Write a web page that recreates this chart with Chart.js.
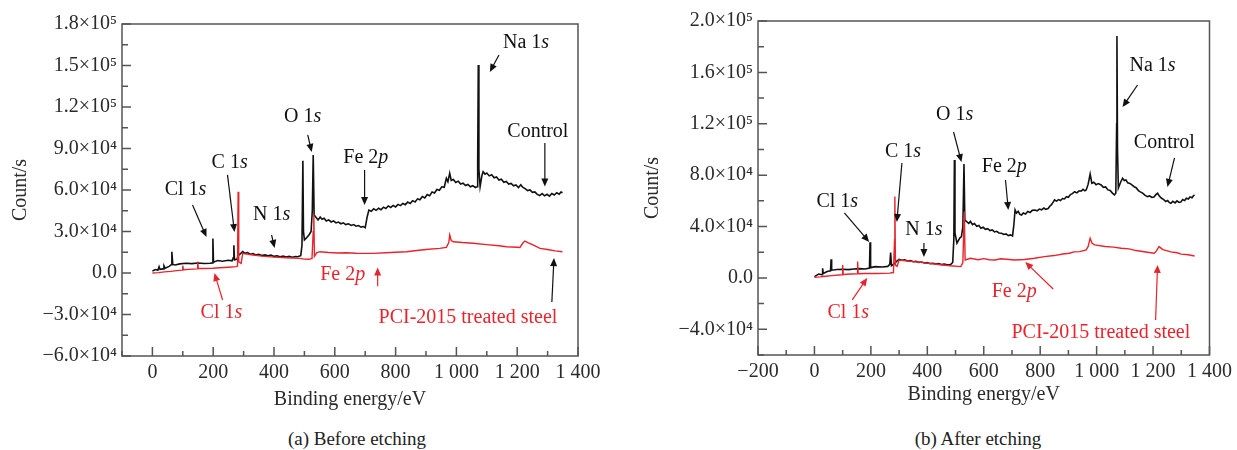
<!DOCTYPE html>
<html>
<head>
<meta charset="utf-8">
<script src="https://cdn.jsdelivr.net/npm/chart.js@4.4.1/dist/chart.umd.min.js"></script>
<style>
  body { margin: 0; background: #fff; width: 1237px; height: 450px; position: relative; overflow: hidden; font-family: "Liberation Serif", serif; }
  canvas { position: absolute; top: 0; }
  #chartA { left: 0; }
  #chartB { left: 618px; }
  .caption { position: absolute; top: 428px; width: 300px; text-align: center; font-size: 19px; color: #222; }
</style>
</head>
<body>
<canvas id="chartA" width="618" height="420"></canvas>
<canvas id="chartB" width="619" height="420"></canvas>
<div class="caption" style="left:207px">(a) Before etching</div>
<div class="caption" style="left:828px">(b) After etching</div>
<script>
// (a) before etching - control
const ctlA_E = [0, 10, 18, 22, 25, 35, 38, 42, 55, 62, 64, 67, 75, 90, 110, 130, 150, 170, 190, 197, 199, 201, 215, 230, 250, 262, 266, 268, 270, 278, 284, 290,
  297, 305, 313, 322, 331, 340, 350, 360, 370, 380, 390, 400, 410, 420, 430, 440, 450, 460, 470, 477, 488, 492, 495, 497, 500, 505, 515, 522, 526, 529, 532,
  545, 552, 558, 565, 572, 580, 588, 596, 604, 612, 620, 628, 636, 645, 654, 662, 670, 678, 686, 694, 700, 706, 712, 720, 728, 736, 744, 752, 760, 768, 776,
  784, 792, 800, 808, 816, 824, 832, 840, 848, 856, 864, 872, 880, 888, 896, 904, 912, 920, 928, 936, 944, 952, 960, 967, 972, 978, 983, 990, 998, 1006,
  1014, 1022, 1030, 1038, 1046, 1054, 1062, 1068, 1070, 1072, 1074, 1078, 1084, 1088, 1094, 1100, 1108, 1116, 1124, 1132, 1140, 1148, 1156, 1164, 1172,
  1180, 1188, 1196, 1204, 1212, 1218, 1226, 1234, 1242, 1250, 1258, 1266, 1274, 1282, 1290, 1298, 1306, 1314, 1322, 1330, 1338, 1344, 1349];
const ctlA_V = [1500, 2500, 2000, 4500, 2600, 3000, 5200, 3500, 4800, 6000, 15400, 6200, 5800, 6600, 7000, 6800, 7200, 6900, 7100, 7300, 25000, 7800, 9000, 8500, 9200, 8800, 11000, 20000, 9500, 10000, 13000, 14000,
  15500, 14200, 14800, 13600, 14100, 13000, 13500, 12600, 13100, 12400, 12900, 12000, 12500, 11800, 12200, 11500, 12000, 11400, 11900, 11800, 12500, 20000, 81200, 30000, 23900, 25000, 27500, 30000, 45000, 85300, 42000,
  38300, 40500, 38800, 39600, 37600, 38400, 36900, 37700, 36200, 36800, 35600, 36300, 35000, 35600, 34400, 35000, 33800, 34300, 33200, 33600, 32800, 40000, 45500, 44600, 46400, 45300, 46800, 45700, 47600, 46600, 48500,
  47400, 48800, 47800, 49600, 48700, 50300, 49400, 51300, 50200, 52300, 51400, 53600, 52900, 55300, 54300, 56700, 55900, 58600, 57800, 60400, 59800, 62300, 62000, 68500, 66000, 72100, 67000, 67600, 65500, 66400,
  64300, 65000, 63200, 64000, 62300, 63100, 61800, 62400, 80000, 150400, 75000, 62400, 70500, 73200, 71500, 72300, 70200, 71000, 68800, 69400, 67200, 67800, 65600, 66200, 64300,
  64800, 63000, 63600, 61800, 63800, 62000, 61000, 59600, 60100, 58300, 58600, 56800, 56000, 57400, 55800, 56900, 55600, 57500, 56400, 58000, 57000, 58600, 58000];

// (a) before etching - PCI-2015 treated steel
const pciA_E = [0, 20, 40, 60, 80, 98, 100, 102, 120, 147, 149, 151, 170, 199, 220, 250, 276, 280, 282, 284, 292, 297, 305, 330, 360, 400, 440, 484, 500, 515, 525, 529, 531, 533, 540, 551, 580, 610, 638, 670, 700, 726, 768, 800, 836, 870, 900, 945, 967, 975, 978, 983, 990, 1020, 1055, 1100, 1140, 1165, 1200, 1209, 1218, 1225, 1235, 1250, 1275, 1300, 1325, 1349];
const pciA_V = [0, 300, 800, 1200, 1700, 2100, 5300, 2300, 2600, 3000, 8200, 3200, 3300, 3400, 3800, 4200, 4600, 5000, 58800, 8000, 7000, 14200, 13800, 13000, 12200, 11500, 11000, 10600, 10000, 9900, 10500, 30000, 42700, 12000, 14500, 15400, 14800, 14500, 14600, 14300, 14200, 14200, 14600, 15000, 15400, 16300, 17000, 17800, 18500, 22000, 27500, 23500, 22600, 22000, 21500, 20500, 19700, 19000, 18600, 18500, 21500, 23100, 22000, 20500, 17800, 17000, 16000, 15400];

// (b) after etching - control
const ctlB_E = [0, 15, 27, 29, 31, 45, 57, 59, 61, 80, 100, 120, 140, 160, 180, 195, 197, 199, 215, 240, 260, 267, 270, 273, 282, 292,
  300, 310, 320, 330, 340, 350, 360, 370, 380, 390, 400, 410, 420, 430, 440, 450, 460, 470, 482, 490, 494, 496, 498, 505, 515, 521, 526, 530, 533,
  547, 553, 560, 567, 575, 583, 590, 598, 606, 614, 622, 630, 638, 646, 654, 663, 671, 679, 687, 695, 702, 707, 711, 716, 722, 728, 734, 740, 748, 756, 764,
  772, 781, 789, 797, 805, 813, 820, 828, 834, 840, 846, 851, 858, 865, 872, 879, 886, 893, 900, 907, 914, 922, 930, 938, 945, 952, 958, 963, 970, 977, 983,
  990, 998, 1006, 1016, 1024, 1032, 1040, 1048, 1056, 1063, 1068, 1071, 1072, 1074, 1077, 1085, 1092, 1098, 1104, 1110, 1118, 1126, 1133, 1140, 1148, 1155,
  1163, 1172, 1180, 1188, 1196, 1203, 1210, 1216, 1223, 1230, 1237, 1245, 1252, 1258, 1263, 1270, 1278, 1285, 1292, 1298, 1305, 1312, 1318, 1325, 1331,
  1338, 1343, 1347];
const ctlB_V = [1000, 3000, 2500, 7500, 3500, 5000, 5500, 14500, 6000, 6500, 6800, 6500, 7000, 7200, 7000, 7600, 27800, 8000, 8800, 8500, 9000, 10500, 19700, 9500, 11000, 13000,
  14500, 13800, 14100, 13200, 13500, 12600, 12900, 12100, 12400, 11600, 11900, 11100, 11400, 10800, 11100, 10400, 10700, 10200, 10300, 12000, 30000, 91800, 35000, 27000, 31000, 32100, 40000, 88700, 45000,
  42500, 44000, 41500, 42300, 40200, 40800, 38600, 39400, 37800, 38300, 36900, 37400, 35800, 36300, 35000, 34800, 33800, 34300, 33000, 33500, 32700, 42000, 52900, 50500, 51800, 49500, 49000, 50600, 49800, 51800, 50900,
  52600, 52900, 52200, 53600, 53000, 54400, 53400, 54000, 55800, 57000, 59000, 60700, 59800, 61000, 60300, 61800, 61500, 63200, 62800, 64900, 65600, 67100, 66200, 67800, 67500, 68900, 67800, 68500, 73000, 80900, 73700,
  74500, 72600, 73400, 72400, 70500, 70800, 68500, 68000, 66000, 64600, 66000, 120000, 188300, 100000, 70000, 74500, 77600, 75800, 76300, 74000, 73600, 72200, 71000, 70200, 68000, 67000,
  66000, 64200, 63300, 63800, 62600, 63000, 64800, 65900, 63500, 62000, 61200, 59500, 60200, 58600, 58100, 59600, 58400, 60000, 58800, 59000, 61000, 60200, 62000, 61400, 63000,
  62400, 64000, 64600];

// (b) after etching - PCI-2015 treated steel
const pciB_E = [0, 20, 40, 60, 98, 100, 102, 130, 151, 153, 155, 180, 220, 266, 280, 284, 285, 287, 293, 300, 330, 360, 400, 440, 480, 519, 526, 531, 534, 553, 580, 600, 620, 640, 660, 680, 710, 744, 780, 815, 850, 880, 903, 920, 940, 963, 970, 977, 984, 993, 1030, 1060, 1087, 1115, 1140, 1180, 1204, 1212, 1221, 1235, 1263, 1285, 1300, 1325, 1347];
const pciB_V = [500, 800, 1300, 1800, 2500, 10100, 2700, 3000, 3200, 12700, 3300, 3400, 3500, 3700, 4200, 30000, 63300, 10000, 9000, 14000, 13200, 12500, 11500, 10500, 9500, 8800, 12000, 51600, 14000, 15300, 14200, 15000, 14100, 14000, 14900, 14500, 13900, 14300, 15300, 16600, 17400, 18600, 19200, 20300, 20500, 21800, 24500, 30900, 27000, 25700, 24500, 24000, 23100, 22600, 21300, 20000, 19200, 21000, 24400, 22000, 20300, 19600, 18500, 18000, 17100];

// axis ranges and tick steps
const xMinA = -100, xMinB = -200, xMax = 1400;
const yMinA = -60000, yMaxA = 180000, yStepA = 15000, yMajorA = 30000;
const yMinB = -60000, yMaxB = 200000, yStepB = 20000, yMajorB = 40000;

const BLACK = '#111111';
const RED = '#e8232b';
const TEXT = '#2a2a2a';
const SERIF = '"Liberation Serif", "Times New Roman", serif';

// peak labels: text, italic part, colour, label position and arrow in data units
const notesA = [
  { t: 'Na 1', i: 's', c: BLACK, at: [1229, 166300], from: [1140, 157600], to: [1110, 145300], ac: BLACK },
  { t: 'Control', i: '', c: BLACK, at: [1268, 101900], from: [1291, 94000], to: [1291, 62500], ac: BLACK },
  { t: 'O 1', i: 's', c: BLACK, at: [494, 112800], from: [511, 99800], to: [524, 87500], ac: BLACK },
  { t: 'Fe 2', i: 'p', c: BLACK, at: [702, 83100], from: [698, 74500], to: [698, 49200], ac: BLACK },
  { t: 'C 1', i: 's', c: BLACK, at: [254, 79500], from: [247, 70900], to: [270, 29600], ac: BLACK },
  { t: 'Cl 1', i: 's', c: BLACK, at: [109, 60000], from: [132, 49200], to: [178, 26000], ac: BLACK },
  { t: 'N 1', i: 's', c: BLACK, at: [392, 41900], from: [392, 27500], to: [402, 18100], ac: BLACK },
  { t: 'Fe 2', i: 'p', c: RED, at: [626, -1400], from: [741, -9500], to: [741, 4000], ac: RED },
  { t: 'Cl 1', i: 's', c: RED, at: [227, -28900], from: [231, -19500], to: [204, 0], ac: RED },
  { t: 'PCI-2015 treated steel', i: '', c: RED, at: [1038, -32500], from: [1314, -21000], to: [1321, 10800], ac: BLACK }
];
const notesB = [
  { t: 'Na 1', i: 's', c: BLACK, at: [1198, 164900], from: [1145, 150200], to: [1092, 133000], ac: BLACK },
  { t: 'Control', i: '', c: BLACK, at: [1240, 105000], from: [1276, 93400], to: [1251, 70800], ac: BLACK },
  { t: 'O 1', i: 's', c: BLACK, at: [497, 126800], from: [493, 113600], to: [521, 90200], ac: BLACK },
  { t: 'Fe 2', i: 'p', c: BLACK, at: [673, 86400], from: [677, 76200], to: [687, 52900], ac: BLACK },
  { t: 'C 1', i: 's', c: BLACK, at: [314, 98000], from: [310, 89500], to: [292, 43600], ac: BLACK },
  { t: 'N 1', i: 's', c: BLACK, at: [388, 37300], from: [388, 27200], to: [388, 16300], ac: BLACK },
  { t: 'Cl 1', i: 's', c: BLACK, at: [81, 59100], from: [106, 50600], to: [194, 28000], ac: BLACK },
  { t: 'Fe 2', i: 'p', c: RED, at: [708, -10900], from: [846, -8600], to: [747, 12400], ac: RED },
  { t: 'Cl 1', i: 's', c: RED, at: [120, -27200], from: [134, -17100], to: [187, 0], ac: RED },
  { t: 'PCI-2015 treated steel', i: '', c: RED, at: [1015, -42800], from: [1209, -32700], to: [1216, 10100], ac: RED }
];

const SUP = { 4: '\u2074', 5: '\u2075' };

function sci(v) {
  if (v === 0) return '0.0';
  const sign = v < 0 ? '\u2212' : '';
  const a = Math.abs(v);
  const exp = Math.floor(Math.log10(a));
  return sign + (a / Math.pow(10, exp)).toFixed(1) + '\u00d710' + SUP[exp];
}

function fmtE(v) {
  const sign = v < 0 ? '\u2212' : '';
  const a = Math.abs(v);
  if (a >= 1000) return sign + Math.floor(a / 1000) + ' ' + String(a % 1000).padStart(3, '0');
  return sign + a;
}

function toPoints(xs, ys) {
  return xs.map((x, i) => ({ x: x, y: ys[i] }));
}

function drawArrow(ctx, x1, y1, x2, y2, color) {
  const ang = Math.atan2(y2 - y1, x2 - x1);
  const head = 8, half = 3.5;
  ctx.strokeStyle = color;
  ctx.fillStyle = color;
  ctx.lineWidth = 1.2;
  ctx.beginPath();
  ctx.moveTo(x1, y1);
  ctx.lineTo(x2 - head * 0.7 * Math.cos(ang), y2 - head * 0.7 * Math.sin(ang));
  ctx.stroke();
  ctx.beginPath();
  ctx.moveTo(x2, y2);
  ctx.lineTo(x2 - head * Math.cos(ang) + half * Math.sin(ang), y2 - head * Math.sin(ang) - half * Math.cos(ang));
  ctx.lineTo(x2 - head * Math.cos(ang) - half * Math.sin(ang), y2 - head * Math.sin(ang) + half * Math.cos(ang));
  ctx.closePath();
  ctx.fill();
}

function drawLabel(ctx, x, y, n) {
  const reg = '20px ' + SERIF, ital = 'italic 20px ' + SERIF;
  ctx.font = reg;
  const w1 = ctx.measureText(n.t).width;
  ctx.font = ital;
  const w2 = n.i ? ctx.measureText(n.i).width : 0;
  const left = x - (w1 + w2) / 2;
  ctx.fillStyle = n.c;
  ctx.textBaseline = 'middle';
  ctx.textAlign = 'left';
  ctx.font = reg;
  ctx.fillText(n.t, left, y);
  if (n.i) {
    ctx.font = ital;
    ctx.fillText(n.i, left + w1, y);
  }
}

// box frame, inward ticks and peak labels
function makeFrame(notes, yMajor) {
  return {
    id: 'frame',
    afterDatasetsDraw(chart) {
      const ctx = chart.ctx;
      const area = chart.chartArea;
      const xs = chart.scales.x, ys = chart.scales.y;
      ctx.save();
      ctx.strokeStyle = '#555';
      ctx.lineWidth = 1.5;
      ctx.strokeRect(area.left, area.top, area.right - area.left, area.bottom - area.top);
      ctx.beginPath();
      xs.ticks.forEach(t => {
        const px = xs.getPixelForValue(t.value);
        const len = t.value % 200 === 0 ? 9 : 5;
        ctx.moveTo(px, area.bottom);
        ctx.lineTo(px, area.bottom - len);
      });
      ys.ticks.forEach(t => {
        const py = ys.getPixelForValue(t.value);
        const len = t.value % yMajor === 0 ? 9 : 6;
        ctx.moveTo(area.left, py);
        ctx.lineTo(area.left + len, py);
      });
      ctx.stroke();
      notes.forEach(n => {
        drawArrow(ctx, xs.getPixelForValue(n.from[0]), ys.getPixelForValue(n.from[1]),
          xs.getPixelForValue(n.to[0]), ys.getPixelForValue(n.to[1]), n.ac);
        drawLabel(ctx, xs.getPixelForValue(n.at[0]), ys.getPixelForValue(n.at[1]), n);
      });
      ctx.restore();
    }
  };
}

function makeChart(id, cfg) {
  const font = { family: SERIF, size: 20 };
  return new Chart(document.getElementById(id), {
    type: 'line',
    data: {
      datasets: [
        { data: toPoints(cfg.pciE, cfg.pciV), borderColor: RED, borderWidth: 1.4 },
        { data: toPoints(cfg.ctlE, cfg.ctlV), borderColor: BLACK, borderWidth: 1.6 }
      ]
    },
    options: {
      responsive: false,
      animation: false,
      layout: { padding: { top: cfg.top, right: cfg.right, left: 0, bottom: 0 } },
      plugins: { legend: { display: false }, tooltip: { enabled: false } },
      elements: { point: { radius: 0 }, line: { tension: 0 } },
      scales: {
        x: {
          type: 'linear',
          min: cfg.xMin,
          max: xMax,
          afterFit: s => { s.height = 420 - cfg.bottom; },
          grid: { display: false, drawTicks: false },
          border: { display: false },
          ticks: {
            stepSize: 100, autoSkip: false, maxRotation: 0, padding: 5, color: TEXT, font: font,
            callback: v => (v % 200 === 0 ? fmtE(v) : '')
          },
          title: { display: true, text: 'Binding energy/eV', color: TEXT, font: font, padding: { top: 0, bottom: cfg.xTitlePad } }
        },
        y: {
          min: cfg.yMin,
          max: cfg.yMax,
          afterFit: s => { s.width = cfg.left; },
          grid: { display: false, drawTicks: false },
          border: { display: false },
          ticks: {
            stepSize: cfg.yStep, autoSkip: false, padding: 5, color: TEXT, font: font,
            callback: v => (v % cfg.yMajor === 0 ? sci(v) : '')
          },
          title: { display: true, text: 'Count/s', color: TEXT, font: font, padding: { top: cfg.yTitlePad, bottom: 0 } }
        }
      }
    },
    plugins: [makeFrame(cfg.notes, cfg.yMajor)]
  });
}

makeChart('chartA', {
  ctlE: ctlA_E, ctlV: ctlA_V, pciE: pciA_E, pciV: pciA_V,
  xMin: xMinA, yMin: yMinA, yMax: yMaxA, yStep: yStepA, yMajor: yMajorA,
  top: 24, right: 40, left: 122, bottom: 356, xTitlePad: 8, yTitlePad: 9, notes: notesA
});
makeChart('chartB', {
  ctlE: ctlB_E, ctlV: ctlB_V, pciE: pciB_E, pciV: pciB_V,
  xMin: xMinB, yMin: yMinB, yMax: yMaxB, yStep: yStepB, yMajor: yMajorB,
  top: 21, right: 25, left: 140, bottom: 355, xTitlePad: 13, yTitlePad: 23, notes: notesB
});
</script>
</body>
</html>
